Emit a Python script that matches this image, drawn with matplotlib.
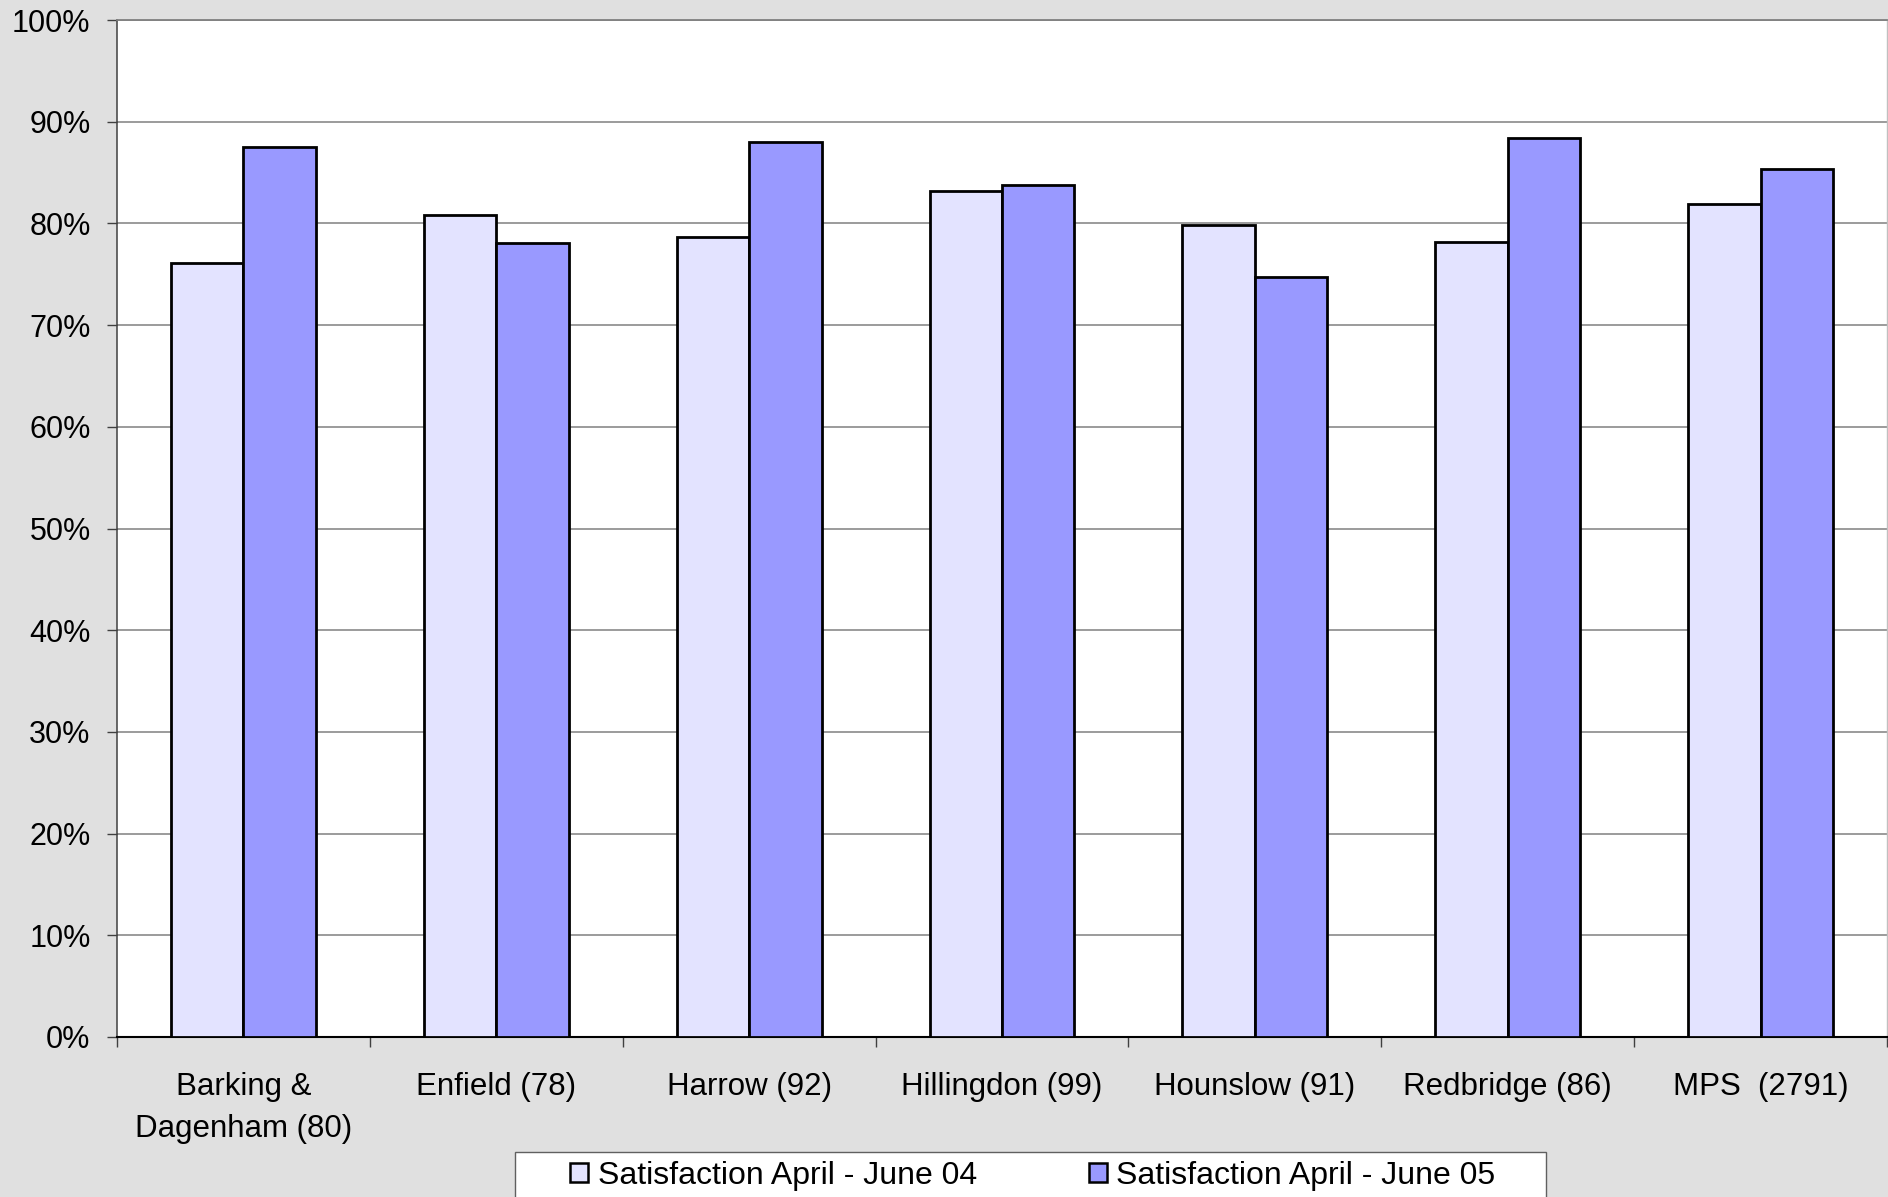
import numpy as np
import matplotlib
matplotlib.use("Agg")
import matplotlib.pyplot as plt
from matplotlib.patches import Patch, Rectangle
from matplotlib.ticker import PercentFormatter, FixedLocator

plt.rcParams['font.family'] = ['Liberation Sans', 'DejaVu Sans']

categories = ["Barking &\nDagenham (80)", "Enfield (78)", "Harrow (92)", "Hillingdon (99)",
              "Hounslow (91)", "Redbridge (86)", "MPS  (2791)"]
sat_04 = [0.761, 0.808, 0.787, 0.832, 0.798, 0.782, 0.819]
sat_05 = [0.875, 0.781, 0.880, 0.838, 0.747, 0.884, 0.853]
series_names = ["Satisfaction April - June 04", "Satisfaction April - June 05"]
colors = ["#e3e3ff", "#9999ff"]

W, H = 1888, 1197
fig = plt.figure(figsize=(W / 100, H / 100), dpi=100)
fig.patch.set_facecolor('#e0e0e0')
ax = fig.add_axes([117 / W, 1 - 1037 / H, (1887 - 117) / W, (1037 - 20) / H])
ax.set_facecolor('white')

x = np.arange(len(categories))
bw = 0.2865
ax.bar(x - bw / 2, sat_04, bw, color=colors[0], edgecolor='black', linewidth=2.0, zorder=3)
ax.bar(x + bw / 2, sat_05, bw, color=colors[1], edgecolor='black', linewidth=2.0, zorder=3)

ax.set_xlim(-0.5, len(categories) - 0.5)
ax.set_ylim(0, 1)
ax.yaxis.set_major_locator(FixedLocator(np.linspace(0, 1, 11)))
ax.yaxis.set_major_formatter(PercentFormatter(1, decimals=0))
ax.grid(axis='y', color='#808080', linewidth=1.1, zorder=0)
ax.set_axisbelow(True)

# category boundaries as major ticks, labels on minor ticks at centres
ax.set_xticks(np.arange(-0.5, len(categories), 1.0))
ax.set_xticklabels([])
ax.set_xticks(x, minor=True)
ax.set_xticklabels(categories, minor=True, fontsize=22.5, linespacing=1.55)
ax.tick_params(axis='x', which='major', direction='out', length=7, width=1, color='#404040')
ax.tick_params(axis='x', which='minor', length=0, pad=25)
ax.tick_params(axis='y', direction='out', length=7, width=1, color='#404040', labelsize=22, pad=12)

ax.spines['left'].set_color('#404040')
ax.spines['left'].set_linewidth(1.1)
ax.spines['bottom'].set_color('black')
ax.spines['bottom'].set_linewidth(1.5)
ax.spines['top'].set_color('#808080')
ax.spines['top'].set_linewidth(1.3)
ax.spines['right'].set_color('#c0c0c0')
ax.spines['right'].set_linewidth(1.0)

# legend frame drawn by hand, it runs off the bottom edge
fig.patches.append(Rectangle((515 / W, -0.05), 1031 / W, 0.05 + 1 - 1152 / H,
                             transform=fig.transFigure, facecolor='white',
                             edgecolor='#606060', linewidth=1.0, zorder=1))
handles = [Patch(facecolor=c, edgecolor='black', linewidth=1.8) for c in colors]
fig.legend(handles, series_names, loc='center', bbox_to_anchor=(1033 / W, 1 - 1176 / H),
           ncol=2, frameon=False, fontsize=23, handlelength=0.56, handleheight=0.56,
           handletextpad=0.3, columnspacing=3.5, borderpad=0)

fig.savefig('out.png', dpi=100, facecolor=fig.get_facecolor())
